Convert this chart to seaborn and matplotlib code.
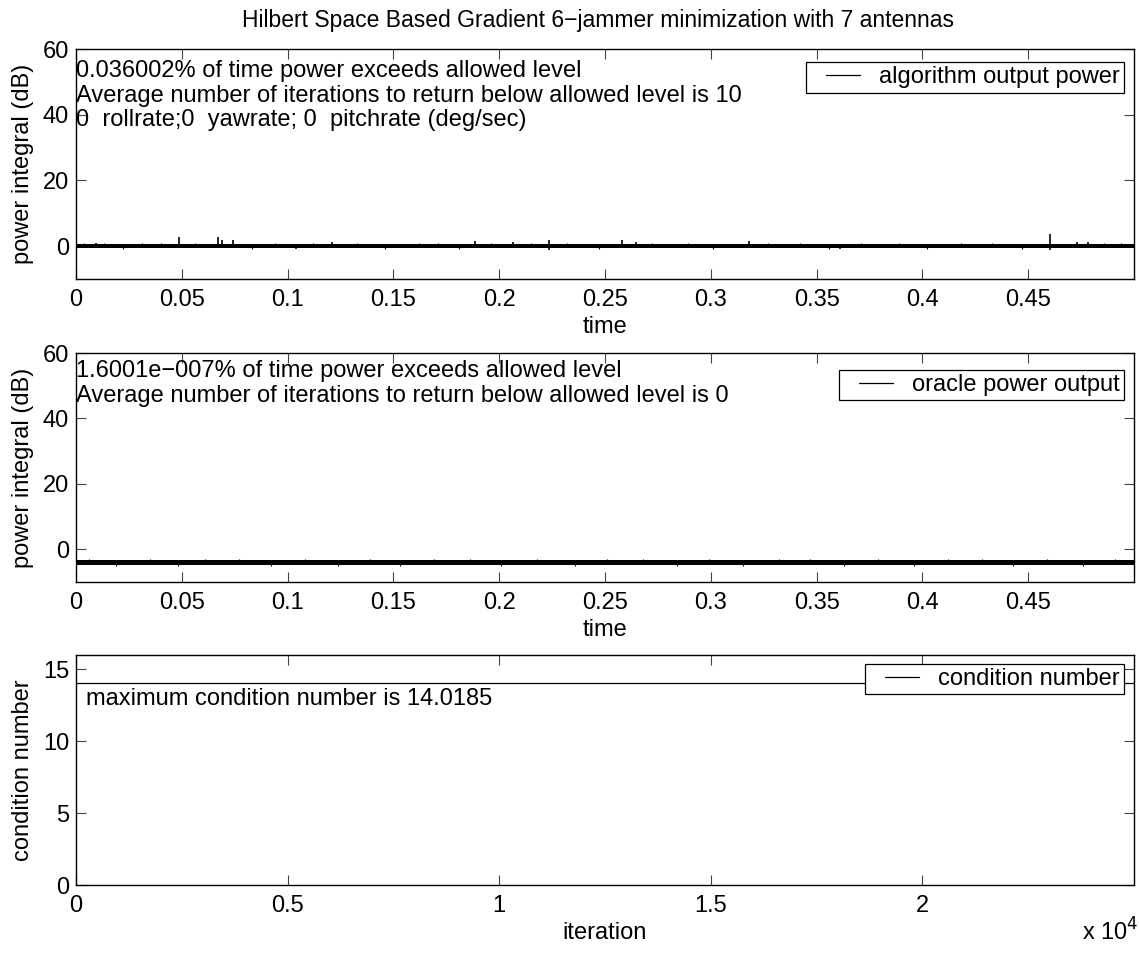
import matplotlib
matplotlib.use("Agg")
import matplotlib.pyplot as plt
from matplotlib.ticker import FixedLocator, FixedFormatter, FormatStrFormatter
from matplotlib.legend_handler import HandlerLine2D
from matplotlib.lines import Line2D
import pandas as pd
import seaborn as sns

# ---------------- data ----------------
title = "Hilbert Space Based Gradient 6\u2212jammer minimization with 7 antennas"

# panel 1: algorithm output power (dB) vs time
time_span = [0.0, 0.49996]
algo_band = [-0.6, 0.6]            # dense noise floor (low, high)
algo_spike_t = [0.0093, 0.0486, 0.0671, 0.0690, 0.0742, 0.1210, 0.1885, 0.2065,
                0.2236, 0.2580, 0.2646, 0.3180, 0.4604, 0.4730, 0.4780]
algo_spike_db = [1.0, 2.7, 2.8, 1.8, 2.0, 1.2, 1.6, 1.2,
                 2.0, 1.8, 1.2, 1.6, 3.8, 1.2, 1.4]
algo_dip_t = [0.1040, 0.2236, 0.3610, 0.4604]
algo_dip_db = [-0.9, -1.3, -0.9, -1.3]
algo_minor_t = [0.004, 0.013, 0.022, 0.031, 0.040, 0.056, 0.083, 0.094, 0.112,
                0.133, 0.146, 0.162, 0.171, 0.181, 0.196, 0.215, 0.232, 0.247,
                0.272, 0.289, 0.301, 0.327, 0.342, 0.356, 0.371, 0.389, 0.402,
                0.418, 0.433, 0.447, 0.486, 0.494]
algo_minor_db = [0.9, 1.0, -0.9, 0.9, 1.0, 0.9, -0.9, 1.0, 0.9,
                 1.0, -0.9, 0.9, 1.0, -0.9, 0.9, 1.0, 0.9, -0.9,
                 1.0, 0.9, -0.9, 0.9, 1.0, -0.9, 0.9, 1.0, -0.9,
                 0.9, 1.0, -0.9, 0.9, 1.0]
algo_notes = ["0.036002% of time power exceeds allowed level",
              "Average number of iterations to return below allowed level is 10",
              "0  rollrate;0  yawrate; 0  pitchrate (deg/sec)"]

# panel 2: oracle power output (dB) vs time
oracle_level = -4.0
oracle_band = [-4.8, -3.2]
oracle_minor_t = [0.006, 0.019, 0.035, 0.048, 0.061, 0.077, 0.092, 0.108, 0.124,
                  0.139, 0.153, 0.169, 0.186, 0.201, 0.218, 0.236, 0.251, 0.268,
                  0.284, 0.299, 0.315, 0.332, 0.347, 0.363, 0.379, 0.396, 0.412,
                  0.428, 0.443, 0.459, 0.476, 0.491]
oracle_minor_db = [-2.9, -5.1, -2.9, -5.0, -2.9, -2.9, -5.1, -2.9, -5.0,
                   -2.9, -5.1, -2.9, -2.9, -5.0, -2.9, -5.1, -2.9, -2.9,
                   -5.0, -2.9, -5.1, -2.9, -2.9, -5.0, -2.9, -5.1, -2.9,
                   -2.9, -5.0, -2.9, -5.1, -2.9]
oracle_notes = ["1.6001e\u2212007% of time power exceeds allowed level",
                "Average number of iterations to return below allowed level is 0"]

# panel 3: condition number vs iteration
iteration = [0, 24999]
condition = [14.0185, 14.0185]
cond_note = "maximum condition number is 14.0185"

time_ticks = [0, 0.05, 0.1, 0.15, 0.2, 0.25, 0.3, 0.35, 0.4, 0.45]
power_ticks = [0, 20, 40, 60]
iter_ticks = [0, 5000, 10000, 15000, 20000]
iter_labels = ["0", "0.5", "1", "1.5", "2"]
cond_ticks = [0, 5, 10, 15]

# ---------------- style ----------------
sns.set_theme(style="white")
FS = 17
plt.rcParams["font.family"] = ["Liberation Sans", "DejaVu Sans"]
plt.rcParams.update({
    "font.size": FS,
    "text.color": "black",
    "axes.labelcolor": "black",
    "axes.linewidth": 1.0,
    "axes.edgecolor": "black",
    "xtick.direction": "in",
    "ytick.direction": "in",
    "xtick.major.size": 7,
    "ytick.major.size": 7,
    "xtick.major.width": 0.8,
    "ytick.major.width": 0.8,
    "xtick.color": "#444444",
    "ytick.color": "#444444",
    "xtick.labelcolor": "black",
    "ytick.labelcolor": "black",
    "xtick.labelsize": FS,
    "ytick.labelsize": FS,
})

W, H = 1139, 956
fig = plt.figure(figsize=(W / 100, H / 100), dpi=100)

L, R = 76, 1134


def add_axes(top, bottom):
    return fig.add_axes([L / W, 1 - bottom / H, (R - L) / W, (bottom - top) / H])


ax1 = add_axes(49, 279)
ax2 = add_axes(353, 582)
ax3 = add_axes(655, 885)


def style_axes(ax):
    ax.tick_params(top=True, right=True, bottom=True, left=True)
    ax.tick_params(axis="x", pad=7)
    ax.tick_params(axis="y", pad=5)
    for s in ax.spines.values():
        s.set_visible(True)
        s.set_color("black")


def add_legend(ax, anchor):
    leg = ax.legend(loc="upper right", bbox_to_anchor=anchor, borderaxespad=0,
                    frameon=True, fancybox=False, shadow=False, framealpha=1,
                    edgecolor="black", borderpad=0.18, handlelength=2.1,
                    handletextpad=0.8, fontsize=FS,
                    handler_map={Line2D: HandlerLine2D(xpad=0.67)})
    leg.get_frame().set_linewidth(0.9)
    for h in leg.get_lines():
        h.set_linewidth(0.9)
    return leg


# ---- panel 1 ----
band1 = pd.DataFrame({"time": time_span, "lo": [algo_band[0]] * 2,
                      "hi": [algo_band[1]] * 2, "mid": [0.0, 0.0]})
sns.lineplot(data=band1, x="time", y="mid", ax=ax1, color="black", lw=0.9,
             label="algorithm output power")
ax1.fill_between(band1["time"], band1["lo"], band1["hi"], color="black", lw=0)
ax1.vlines(algo_minor_t, 0, algo_minor_db, color="black", lw=0.8)
ax1.vlines(algo_spike_t, 0, algo_spike_db, color="black", lw=1.2)
ax1.vlines(algo_dip_t, 0, algo_dip_db, color="black", lw=1.2)
ax1.set_xlim(time_span)
ax1.set_ylim(-10, 60)
ax1.xaxis.set_major_locator(FixedLocator(time_ticks))
ax1.xaxis.set_major_formatter(FormatStrFormatter("%g"))
ax1.yaxis.set_major_locator(FixedLocator(power_ticks))
ax1.set_xlabel("time", fontsize=FS, labelpad=4)
ax1.set_ylabel("power integral (dB)", fontsize=FS, labelpad=6)
fig.text(598 / W, 1 - 27 / H, title, ha="center", va="baseline", fontsize=16.5)
for note, y in zip(algo_notes, [51.5, 43.9, 36.6]):
    ax1.text(0.0, y, note, ha="left", va="baseline", fontsize=FS)
add_legend(ax1, (0.9905, 0.943))
style_axes(ax1)

# ---- panel 2 ----
band2 = pd.DataFrame({"time": time_span, "lo": [oracle_band[0]] * 2,
                      "hi": [oracle_band[1]] * 2, "mid": [oracle_level] * 2})
sns.lineplot(data=band2, x="time", y="mid", ax=ax2, color="black", lw=0.9,
             label="oracle power output")
ax2.fill_between(band2["time"], band2["lo"], band2["hi"], color="black", lw=0)
ax2.vlines(oracle_minor_t, oracle_level, oracle_minor_db, color="black", lw=0.8)
ax2.set_xlim(time_span)
ax2.set_ylim(-10, 60)
ax2.xaxis.set_major_locator(FixedLocator(time_ticks))
ax2.xaxis.set_major_formatter(FormatStrFormatter("%g"))
ax2.yaxis.set_major_locator(FixedLocator(power_ticks))
ax2.set_xlabel("time", fontsize=FS, labelpad=4)
ax2.set_ylabel("power integral (dB)", fontsize=FS, labelpad=6)
for note, y in zip(oracle_notes, [52.7, 45.1]):
    ax2.text(0.0, y, note, ha="left", va="baseline", fontsize=FS)
add_legend(ax2, (0.9905, 0.926))
style_axes(ax2)

# ---- panel 3 ----
cond_df = pd.DataFrame({"iteration": iteration, "condition": condition})
sns.lineplot(data=cond_df, x="iteration", y="condition", ax=ax3, color="black",
             lw=0.9, label="condition number")
ax3.set_xlim(0, 24999)
ax3.set_ylim(0, 16)
ax3.xaxis.set_major_locator(FixedLocator(iter_ticks))
ax3.xaxis.set_major_formatter(FixedFormatter(iter_labels))
ax3.yaxis.set_major_locator(FixedLocator(cond_ticks))
ax3.set_xlabel("iteration", fontsize=FS, labelpad=4)
ax3.set_ylabel("condition number", fontsize=FS, labelpad=6)
ax3.text(230, 12.5, cond_note, ha="left", va="baseline", fontsize=FS)
add_legend(ax3, (0.9905, 0.961))
style_axes(ax3)

fig.text(1082 / W, 1 - 941 / H, r"x 10$^{4}$", ha="left", va="baseline", fontsize=FS)

fig.savefig("out.png", dpi=100, facecolor="white")
